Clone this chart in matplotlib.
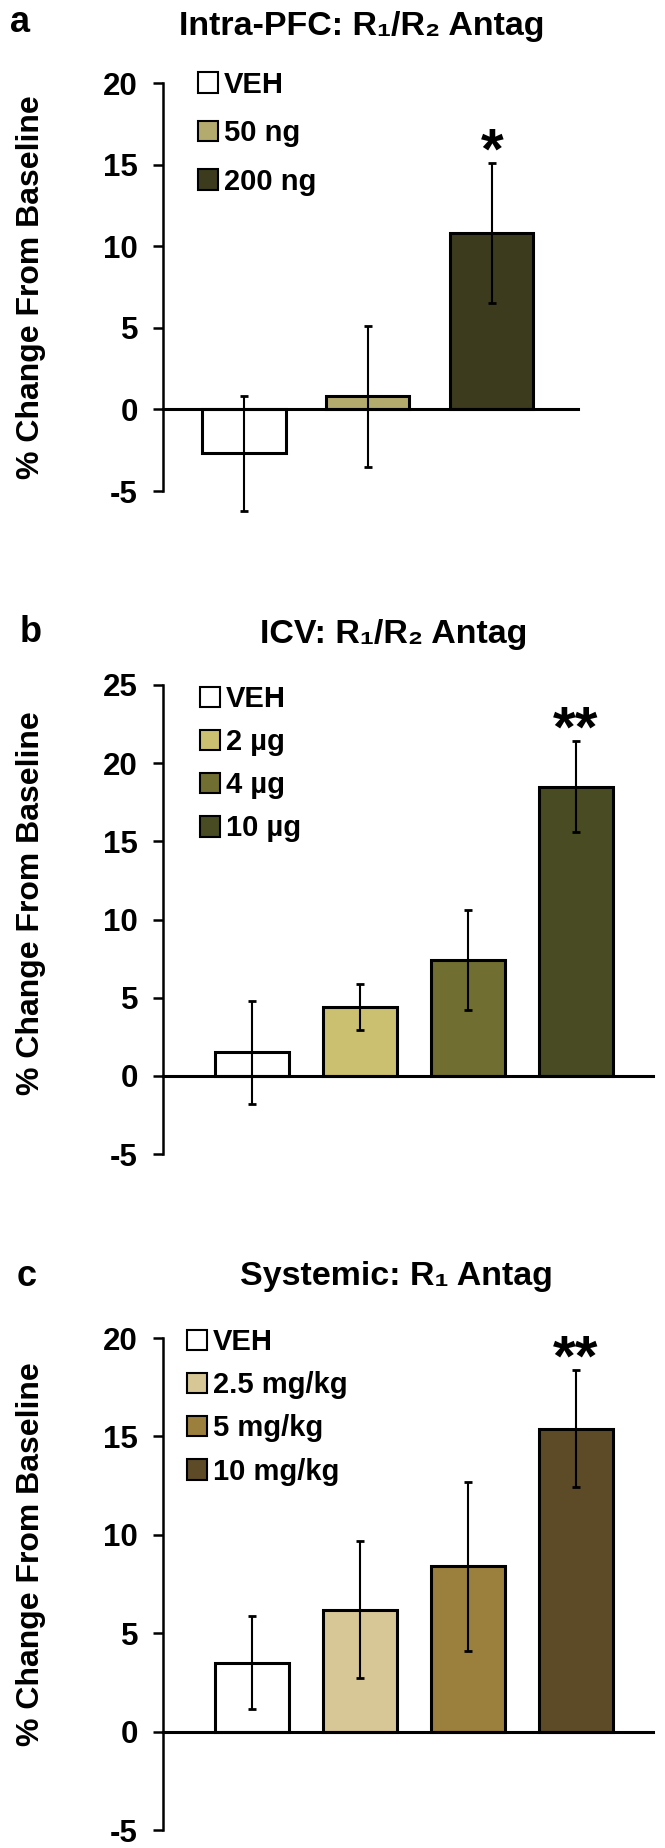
import matplotlib
matplotlib.use("Agg")
import matplotlib.pyplot as plt
from matplotlib.patches import Patch

plt.rcParams["font.family"] = ["Liberation Sans", "DejaVu Sans"]
plt.rcParams["font.weight"] = "bold"
plt.rcParams["axes.unicode_minus"] = False

# panel a: intra-PFC
a_labels = ["VEH", "50 ng", "200 ng"]
a_means = [-2.7, 0.8, 10.8]
a_sem = [3.55, 4.3, 4.3]
a_colors = ["#ffffff", "#b3ab6e", "#3c3b1e"]
a_stars = ["", "", "*"]

# panel b: ICV
b_labels = ["VEH", "2 µg", "4 µg", "10 µg"]
b_means = [1.5, 4.4, 7.4, 18.5]
b_sem = [3.3, 1.45, 3.2, 2.9]
b_colors = ["#ffffff", "#cbc070", "#706e31", "#494b23"]
b_stars = ["", "", "", "**"]

# panel c: systemic
c_labels = ["VEH", "2.5 mg/kg", "5 mg/kg", "10 mg/kg"]
c_means = [3.5, 6.2, 8.4, 15.4]
c_sem = [2.35, 3.5, 4.3, 2.95]
c_colors = ["#ffffff", "#d7c797", "#9a7f3d", "#5d4b28"]
c_stars = ["", "", "", "**"]

W, H = 665, 1848
fig = plt.figure(figsize=(W / 100, H / 100), dpi=100)


def panel(rect, labels, means, sem, colors, stars, ylim, yticks, xlim, width,
          letter, title, letter_xy, title_xy, leg_anchor, ylab_xy, lspace):
    ax = fig.add_axes(rect)
    x = list(range(len(means)))
    ax.bar(x, means, width=width, color=colors, edgecolor="black", linewidth=2.2, zorder=2)
    eb = ax.errorbar(x, means, yerr=sem, fmt="none", ecolor="black", elinewidth=1.5,
                     capsize=3, capthick=2, zorder=3)
    for art in eb.get_children():
        art.set_clip_on(False)
    # significance stars sit just above the error bar
    for xi, m, s, st in zip(x, means, sem, stars):
        if st:
            ax.annotate(st, xy=(xi, m + s), xytext=(0, -4), textcoords="offset points",
                        ha="center", va="baseline", fontsize=42, fontweight="bold",
                        annotation_clip=False)
    ax.set_xlim(*xlim)
    ax.set_ylim(*ylim)
    ax.set_yticks(yticks)
    ax.set_xticks([])
    for s in ["top", "right"]:
        ax.spines[s].set_visible(False)
    ax.spines["bottom"].set_position(("data", 0))
    ax.spines["bottom"].set_linewidth(2.2)
    ax.spines["left"].set_linewidth(1.8)
    ax.tick_params(axis="y", direction="out", length=7, width=1.8, pad=11, labelsize=22.5)
    for t in ax.get_yticklabels():
        t.set_fontweight("bold")
    ax.set_ylabel("% Change From Baseline", fontsize=23, fontweight="bold")
    ax.yaxis.set_label_coords(*ylab_xy)
    handles = [Patch(facecolor=c, edgecolor="black", linewidth=1.5) for c in colors]
    ax.legend(handles, labels, loc="upper left", bbox_to_anchor=leg_anchor, frameon=False,
              handlelength=0.7, handleheight=0.7, handletextpad=0.2,
              labelspacing=lspace, borderpad=0, borderaxespad=0,
              prop={"weight": "bold", "size": 21})
    fig.text(letter_xy[0] / W, 1 - letter_xy[1] / H, letter, fontsize=26,
             fontweight="bold", ha="left", va="center")
    fig.text(title_xy[0] / W, 1 - title_xy[1] / H, title, fontsize=24.5,
             fontweight="bold", ha="center", va="center")
    return ax


panel([163 / W, 1 - 491 / H, 415 / W, 408 / H], a_labels, a_means, a_sem, a_colors, a_stars,
      (-5, 20), range(-5, 21, 5), (-0.653, 2.694), 0.67,
      "a", "Intra-PFC: R₁/R₂ Antag", (10, 22), (362, 27), (0.084, 1.03),
      ((46 - 163) / 415, 0.5), 0.7)

panel([163 / W, 1 - 1154 / H, 490 / W, 469 / H], b_labels, b_means, b_sem, b_colors, b_stars,
      (-5, 25), range(-5, 26, 5), (-0.824, 3.713), 0.685,
      "b", "ICV: R₁/R₂ Antag", (20, 632), (394, 635), (0.0755, 1.0),
      ((46 - 163) / 490, 0.535), 0.52)

panel([163 / W, 1 - 1830 / H, 490 / W, 492 / H], c_labels, c_means, c_sem, c_colors, c_stars,
      (-5, 20), range(-5, 21, 5), (-0.824, 3.713), 0.685,
      "c", "Systemic: R₁ Antag", (17, 1276), (396, 1276), (0.049, 1.02),
      ((46 - 163) / 490, 0.56), 0.52)

fig.savefig("out.png", dpi=100)
